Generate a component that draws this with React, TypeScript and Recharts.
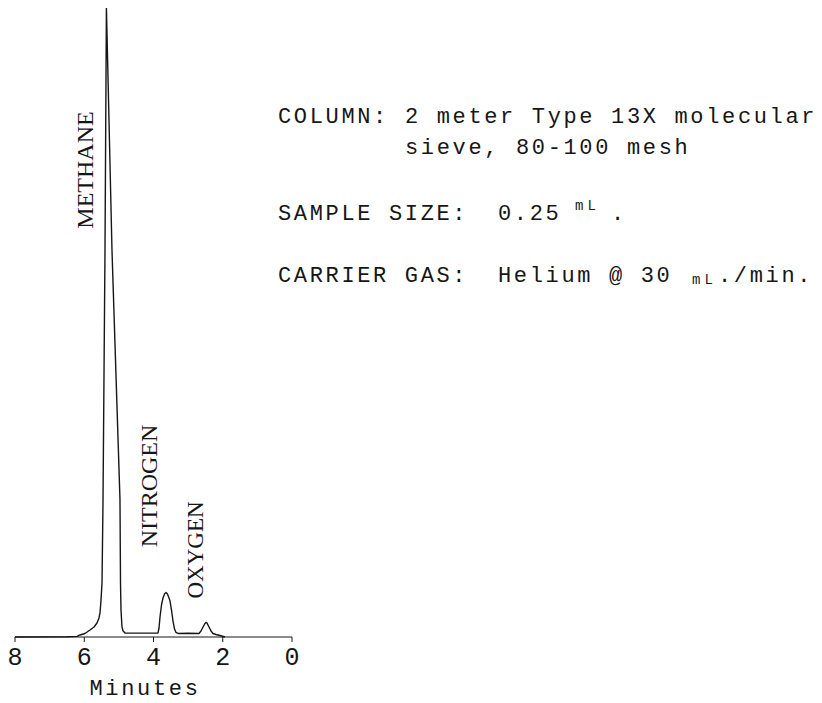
import React from "react";
import { LineChart, Line, XAxis, YAxis } from "recharts";

// Retention time (minutes) and detector response (relative units)
const minutes = [
  8.0, 6.5, 6.209, 6.123, 5.978, 5.834, 5.718, 5.632, 5.574, 5.545, 5.516, 5.487, 5.458, 5.401, 5.36,
  5.199, 4.968, 4.953, 4.939, 4.91, 4.881, 4.823, 4.3,
  3.87, 3.841, 3.812, 3.769, 3.726, 3.682, 3.639, 3.596, 3.552, 3.523, 3.48, 3.437, 3.393, 3.35, 3.292,
  3.0, 2.686, 2.628, 2.57, 2.513, 2.484, 2.455, 2.397, 2.339, 2.282, 2.195, 2.08, 1.936,
];
const signal = [
  0, 0.05, 0.1, 0.32, 0.56, 1.11, 1.59, 2.23, 3.02, 3.82, 5.88, 8.59, 21.8, 61.5, 100,
  61.5, 21.8, 8.6, 4.3, 1.59, 1.0, 0.64, 0.62,
  0.64, 1.43, 3.18, 5.09, 6.2, 6.84, 7.07, 6.84, 6.2, 5.72, 4.29, 2.54, 1.27, 0.72, 0.56,
  0.6, 0.56, 0.95, 1.59, 2.15, 2.31, 2.23, 1.59, 0.95, 0.56, 0.4, 0.24, 0,
];
const xTicks = [0, 2, 4, 6, 8];

const peakLabels = ["METHANE", "NITROGEN", "OXYGEN"];
const conditionLabels = ["COLUMN:", "SAMPLE SIZE:", "CARRIER GAS:"];
const columnText = ["2 meter Type 13X molecular", "sieve, 80-100 mesh"];
const sampleText = ["0.25", "mL", "."];
const carrierText = ["Helium @ 30", "mL", "./min."];
const axisTitle = "Minutes";

const data = minutes.map((t, i) => ({ t, v: signal[i] }));

const MONO = "'Liberation Mono', 'Courier New', monospace";
const SERIF = "'Liberation Serif', 'Times New Roman', serif";
const INK = "#161616";

const monoStyle: React.CSSProperties = { fontFamily: MONO, fontSize: 22, letterSpacing: 2.65 };
const smallStyle: React.CSSProperties = { fontFamily: MONO, fontSize: 14, letterSpacing: 4 };

export default function App() {
  return (
    <div style={{ width: 814, height: 695, background: "#fff" }}>
      <LineChart
        width={814}
        height={695}
        data={data}
        margin={{ top: 0, right: 530, bottom: 36, left: 7 }}
      >
        <XAxis
          type="number"
          dataKey="t"
          domain={[0, 8]}
          reversed
          ticks={xTicks}
          interval={0}
          height={30}
          tickSize={5}
          tickMargin={5}
          stroke={INK}
          tick={{ fill: INK, fontFamily: MONO, fontSize: 25 }}
        />
        <YAxis hide domain={[0, 100]} type="number" />
        <Line
          type="linear"
          dataKey="v"
          stroke={INK}
          strokeWidth={1.4}
          strokeLinejoin="round"
          dot={false}
          isAnimationActive={false}
        />
        {/* peak labels */}
        <text x={85} y={162} transform="rotate(-90 85 162)" textAnchor="middle" fill={INK} style={{ fontFamily: SERIF, fontSize: 24 }}>
          {peakLabels[0]}
        </text>
        <text x={149} y={478} transform="rotate(-90 149 478)" textAnchor="middle" fill={INK} style={{ fontFamily: SERIF, fontSize: 24 }}>
          {peakLabels[1]}
        </text>
        <text x={195} y={542} transform="rotate(-90 195 542)" textAnchor="middle" fill={INK} style={{ fontFamily: SERIF, fontSize: 23 }}>
          {peakLabels[2]}
        </text>
        {/* axis title */}
        <text x={137} y={687} textAnchor="middle" fill={INK} style={monoStyle}>
          {axisTitle}
        </text>
        {/* conditions */}
        <text x={270} y={115} fill={INK} style={monoStyle}>{conditionLabels[0]}</text>
        <text x={397} y={115} fill={INK} style={monoStyle}>{columnText[0]}</text>
        <text x={397} y={146} fill={INK} style={monoStyle}>{columnText[1]}</text>
        <text x={270} y={212} fill={INK} style={monoStyle}>{conditionLabels[1]}</text>
        <text x={490} y={212} fill={INK} style={monoStyle}>{sampleText[0]}</text>
        <text x={567} y={202} fill={INK} style={smallStyle}>{sampleText[1]}</text>
        <text x={603} y={212} fill={INK} style={monoStyle}>{sampleText[2]}</text>
        <text x={270} y={274} fill={INK} style={monoStyle}>{conditionLabels[2]}</text>
        <text x={490} y={274} fill={INK} style={monoStyle}>{carrierText[0]}</text>
        <text x={684} y={276} fill={INK} style={smallStyle}>{carrierText[1]}</text>
        <text x={710} y={274} fill={INK} style={monoStyle}>{carrierText[2]}</text>
      </LineChart>
    </div>
  );
}
